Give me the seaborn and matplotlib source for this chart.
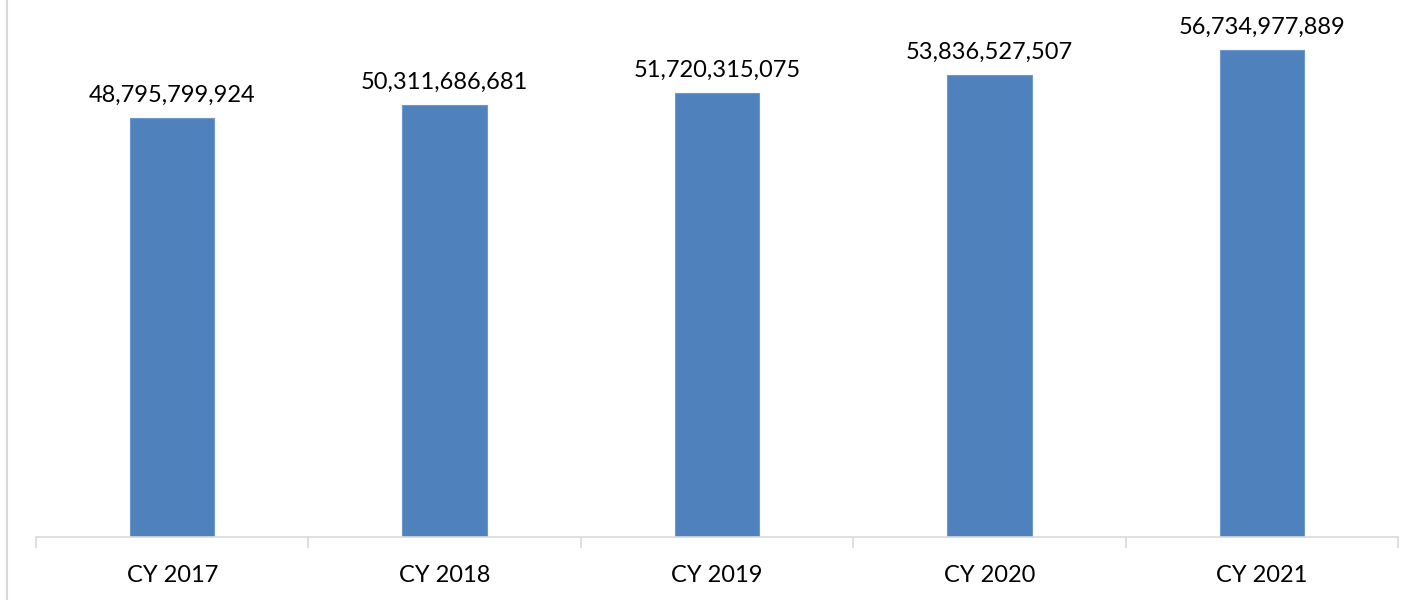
import pandas as pd
import seaborn as sns
from matplotlib import pyplot as plt
from matplotlib.lines import Line2D

years = ["CY 2017", "CY 2018", "CY 2019", "CY 2020", "CY 2021"]
values = [48795799924, 50311686681, 51720315075, 53836527507, 56734977889]

df = pd.DataFrame({"year": years, "value": values})

sns.set_style("white")
plt.rcParams["font.family"] = ["Lato", "DejaVu Sans"]

fig = plt.figure(figsize=(14.06, 6.0), dpi=100)
ax = fig.add_axes([36 / 1406, 63 / 600, (1398 - 36) / 1406, (537 - 22) / 600])

sns.barplot(data=df, x="year", y="value", color="#4F81BD", width=0.31,
            saturation=1, edgecolor="#6F97CA", linewidth=0.8, ax=ax)

for i, v in enumerate(values):
    ax.annotate(f"{v:,}", (i, v), xytext=(0, 9), textcoords="offset points",
                ha="center", va="bottom", fontsize=17, color="#000000")

ax.set_xlim(-0.5, len(years) - 0.5)
ax.set_ylim(0, 60e9)
ax.set_xlabel("")
ax.set_ylabel("")
ax.set_yticks([])

# category boundary ticks like Excel
ax.set_xticks([i - 0.5 for i in range(len(years) + 1)], minor=False)
ax.set_xticklabels([])
ax.set_xticks(range(len(years)), labels=years, minor=True)
ax.tick_params(axis="x", which="both", bottom=True)
ax.tick_params(axis="x", which="major", length=8, width=1.2, color="#D9D9D9", direction="out")
ax.tick_params(axis="x", which="minor", length=0, labelsize=17, pad=20, labelcolor="#000000")

for side in ["top", "right", "left"]:
    ax.spines[side].set_visible(False)
ax.spines["bottom"].set_color("#D9D9D9")
ax.spines["bottom"].set_linewidth(1.2)

fig.add_artist(Line2D([7.5 / 1406, 7.5 / 1406], [0, 1], color="#D9D9D9", linewidth=1.5))

fig.savefig("out.png", dpi=100)
